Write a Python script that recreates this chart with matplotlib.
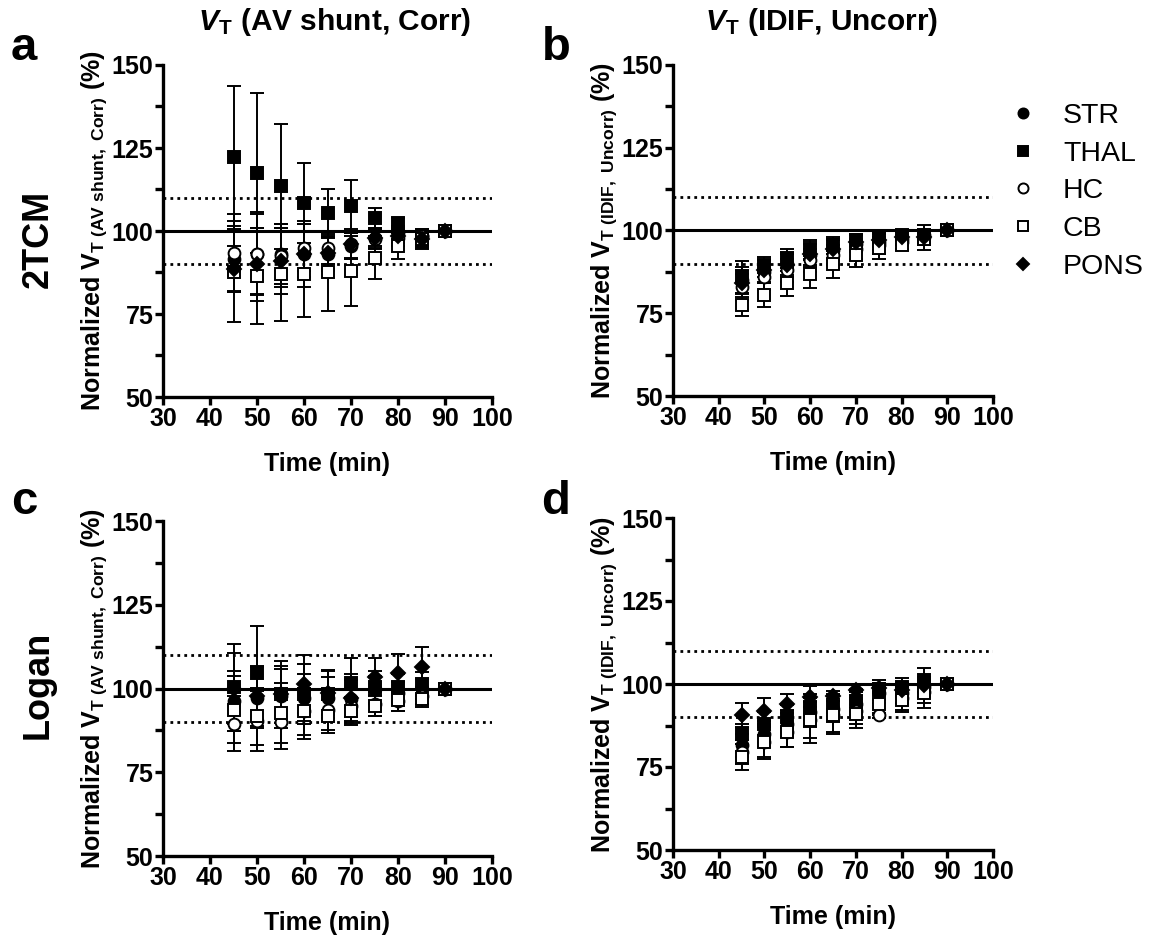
import numpy as np
import matplotlib
matplotlib.use('Agg')
import matplotlib.pyplot as plt

plt.rcParams['font.family'] = ['Liberation Sans', 'DejaVu Sans']
plt.rcParams['font.weight'] = 'bold'
plt.rcParams['mathtext.fontset'] = 'custom'
plt.rcParams['mathtext.rm'] = 'Liberation Sans:bold'
plt.rcParams['mathtext.bf'] = 'Liberation Sans:bold'
plt.rcParams['mathtext.it'] = 'Liberation Sans:bold:italic'
plt.rcParams['mathtext.bfit'] = 'Liberation Sans:bold:italic'

time = [45, 50, 55, 60, 65, 70, 75, 80, 85, 90]
regions = ['STR', 'THAL', 'HC', 'CB', 'PONS']

# panel a: 2TCM, AV shunt corrected (mean, SD)
a_mean = {
    'STR':  [91.5, 93.0, 93.0, 93.0, 93.0, 95.5, 98.0, 99.5, 98.5, 100],
    'THAL': [122.2, 117.5, 113.5, 108.5, 105.5, 107.5, 103.8, 102.5, 97.0, 100],
    'HC':   [93.5, 93.2, 92.5, 95.0, 95.0, 96.0, 97.5, 98.0, 98.5, 100],
    'CB':   [87.7, 86.5, 87.0, 87.0, 87.5, 88.0, 92.0, 95.5, 97.5, 100],
    'PONS': [88.5, 90.0, 91.0, 93.0, 93.5, 96.0, 98.0, 98.5, 97.5, 100],
}
a_sd = {
    'STR':  [10.0, 12.0, 9.0, 10.0, 5.0, 4.0, 2.5, 2.0, 2.0, 0],
    'THAL': [21.5, 24.2, 18.8, 12.0, 7.3, 8.0, 3.0, 1.5, 2.0, 0],
    'HC':   [11.5, 12.5, 9.5, 7.0, 5.0, 4.5, 3.0, 2.5, 2.0, 0],
    'CB':   [15.2, 14.5, 14.0, 13.0, 11.5, 10.5, 6.5, 4.0, 3.0, 0],
    'PONS': [7.0, 11.0, 10.0, 7.0, 5.0, 4.0, 3.0, 2.0, 2.0, 0],
}

# panel b: 2TCM, IDIF uncorrected
b_mean = {
    'STR':  [85.0, 87.5, 90.0, 92.5, 94.0, 96.0, 96.5, 97.5, 98.5, 100],
    'THAL': [86.0, 89.0, 91.5, 94.0, 95.5, 97.0, 97.5, 98.5, 98.0, 100],
    'HC':   [83.0, 86.0, 88.0, 91.0, 92.5, 94.5, 95.5, 96.5, 98.0, 100],
    'CB':   [77.5, 80.5, 84.0, 87.0, 90.0, 92.7, 94.7, 95.7, 97.5, 100],
    'PONS': [84.0, 88.0, 89.5, 93.0, 94.5, 96.5, 97.0, 98.0, 98.0, 100],
}
b_sd = {
    'STR':  [4.0, 3.5, 3.5, 3.5, 3.0, 2.5, 2.5, 2.0, 2.0, 0],
    'THAL': [4.8, 3.1, 2.9, 3.0, 2.5, 2.0, 2.0, 1.5, 2.0, 0],
    'HC':   [4.0, 4.0, 3.5, 3.5, 3.0, 3.0, 2.5, 2.0, 2.0, 0],
    'CB':   [3.2, 3.5, 3.8, 4.3, 4.5, 3.7, 3.3, 1.7, 2.0, 0],
    'PONS': [4.0, 3.5, 3.5, 3.5, 3.0, 2.5, 2.0, 2.0, 3.8, 0],
}

# panel c: Logan, AV shunt corrected
c_mean = {
    'STR':  [96.3, 97.3, 97.8, 97.3, 97.3, 97.0, 99.8, 98.8, 99.8, 100],
    'THAL': [100.3, 104.5, 98.3, 98.3, 98.3, 101.6, 100.3, 100.3, 101.3, 100],
    'HC':   [89.5, 90.2, 89.9, 93.2, 93.7, 94.7, 95.3, 96.3, 97.8, 100],
    'CB':   [93.7, 91.7, 92.7, 93.2, 91.7, 93.2, 94.7, 96.6, 97.0, 100],
    'PONS': [100.0, 97.8, 98.3, 101.3, 98.8, 97.3, 103.5, 104.5, 106.4, 100],
}
c_sd = {
    'STR':  [9.0, 9.0, 8.0, 7.0, 6.0, 5.5, 4.0, 3.0, 3.0, 0],
    'THAL': [13.0, 14.3, 10.0, 9.0, 7.0, 7.4, 5.0, 4.0, 3.5, 0],
    'HC':   [8.2, 9.0, 8.0, 7.0, 6.0, 5.0, 3.6, 3.1, 2.5, 0],
    'CB':   [10.0, 8.5, 9.0, 8.2, 5.0, 4.2, 3.0, 3.4, 2.5, 0],
    'PONS': [10.5, 9.0, 8.5, 8.7, 6.8, 7.0, 5.5, 5.9, 6.0, 0],
}

# panel d: Logan, IDIF uncorrected
d_mean = {
    'STR':  [81.5, 85.0, 88.1, 91.6, 92.6, 94.1, 97.2, 97.2, 99.2, 100],
    'THAL': [85.0, 88.1, 90.1, 93.1, 93.1, 95.0, 98.2, 99.2, 101.2, 100],
    'HC':   [79.5, 82.5, 85.6, 89.1, 90.6, 91.9, 90.6, 95.7, 97.7, 100],
    'CB':   [78.0, 82.5, 85.6, 89.1, 90.6, 91.1, 94.1, 95.2, 97.2, 100],
    'PONS': [90.6, 91.9, 94.1, 96.2, 96.4, 98.2, 98.7, 98.2, 99.7, 100],
}
d_sd = {
    'STR':  [3.5, 4.0, 4.0, 4.5, 4.0, 3.5, 3.0, 3.0, 3.0, 0],
    'THAL': [3.0, 3.5, 3.5, 4.0, 4.0, 3.5, 3.0, 2.7, 3.5, 0],
    'HC':   [3.5, 4.5, 4.5, 5.5, 5.0, 4.0, 0.7, 3.5, 3.5, 0],
    'CB':   [3.8, 5.0, 4.6, 6.8, 5.8, 4.5, 3.5, 3.6, 4.4, 0],
    'PONS': [3.7, 3.8, 2.9, 3.2, 1.5, 1.5, 1.5, 2.0, 2.0, 0],
}

styles = {
    'STR':  dict(marker='o', mfc='black'),
    'THAL': dict(marker='s', mfc='black'),
    'HC':   dict(marker='o', mfc='white'),
    'CB':   dict(marker='s', mfc='white'),
    'PONS': dict(marker='D', mfc='black'),
}
msize = {'o': 8.5, 's': 8.5, 'D': 7}

W, H = 1153, 938
fig = plt.figure(figsize=(W / 100, H / 100), dpi=100)

# left, right, top, bottom in pixels
boxes = [(163, 492, 65, 397), (673, 993, 65, 396),
         (163, 492, 521, 856), (673, 993, 518, 850)]
panels = [(a_mean, a_sd), (b_mean, b_sd), (c_mean, c_sd), (d_mean, d_sd)]
ylabels = [r'Normalized $\mathbf{V}_{\mathbf{T\ (AV\ shunt,\ Corr)}}$ (%)',
           r'Normalized $\mathbf{V}_{\mathbf{T\ (IDIF,\ Uncorr)}}$ (%)'] * 2

for i, ((l, r, t, b), (means, sds)) in enumerate(zip(boxes, panels)):
    ax = fig.add_axes([l / W, 1 - b / H, (r - l) / W, (b - t) / H])
    ax.axhline(100, color='black', lw=2.2, zorder=1)
    ax.axhline(110, color='black', lw=2.0, ls=(0, (1, 1.5)), zorder=1)
    ax.axhline(90, color='black', lw=2.0, ls=(0, (1, 1.5)), zorder=1)
    handles = []
    for reg in regions:
        st = styles[reg]
        ax.errorbar(time, means[reg], yerr=sds[reg], fmt='none',
                    ecolor='black', elinewidth=1.4, capsize=5,
                    capthick=1.4, zorder=2)
        ln, = ax.plot(time, means[reg], ls='none', marker=st['marker'],
                      markersize=msize[st['marker']], mfc=st['mfc'],
                      mec='black', mew=1.4, zorder=3, label=reg)
        handles.append(ln)
    ax.set_xlim(30, 100)
    ax.set_ylim(50, 150)
    ax.set_xticks(range(30, 101, 10))
    ax.set_yticks([50, 75, 100, 125, 150])
    ax.set_yticks([62.5, 87.5, 112.5, 137.5], minor=True)
    for s in ['top', 'right']:
        ax.spines[s].set_visible(False)
    for s in ['left', 'bottom']:
        ax.spines[s].set_linewidth(2.4)
    ax.tick_params(axis='both', which='both', direction='out', width=2.4,
                   length=6, labelsize=18, pad=1)
    for lab in ax.get_xticklabels() + ax.get_yticklabels():
        lab.set_fontweight('bold')
    ax.set_xlabel('Time (min)', fontsize=18, fontweight='bold', labelpad=15)
    ax.set_ylabel(ylabels[i], fontsize=18, fontweight='bold', labelpad=2)

# legend to the right of panel b
fig.legend(handles, regions, loc='upper left',
           bbox_to_anchor=(1006 / W, 1 - 103 / H), frameon=False,
           prop={'size': 20.5, 'weight': 'normal'}, handletextpad=0.8,
           labelspacing=0.41, handlelength=1.2, borderaxespad=0,
           borderpad=0, markerscale=0.85)

# column titles
fig.text(335 / W, 1 - 22 / H, r'$\mathbfit{V}_{\mathbf{T}}$ (AV shunt, Corr)',
         ha='center', va='center', fontsize=21.5, fontweight='bold')
fig.text(822 / W, 1 - 22 / H, r'$\mathbfit{V}_{\mathbf{T}}$ (IDIF, Uncorr)',
         ha='center', va='center', fontsize=21.5, fontweight='bold')

# row labels
fig.text(38 / W, 1 - 239 / H, '2TCM', rotation=90, ha='center', va='center',
         fontsize=26, fontweight='bold')
fig.text(38 / W, 1 - 685 / H, 'Logan', rotation=90, ha='center', va='center',
         fontsize=26, fontweight='bold')

# panel letters
for letter, x, y in [('a', 24, 48), ('b', 556, 48), ('c', 24, 502), ('d', 556, 502)]:
    fig.text(x / W, 1 - y / H, letter, ha='center', va='center',
             fontsize=34, fontweight='bold')

fig.savefig('out.png', dpi=100)
